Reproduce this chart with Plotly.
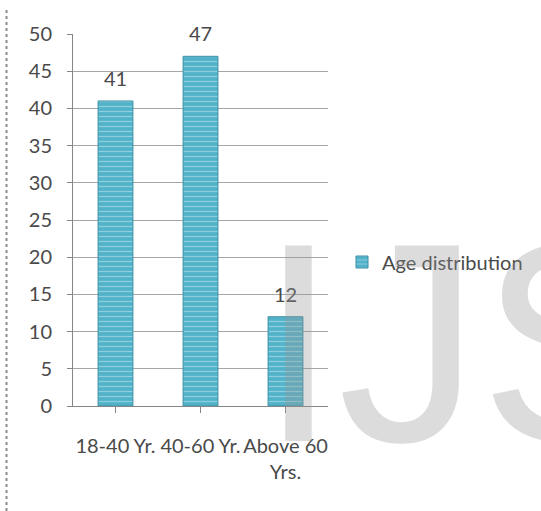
import plotly.graph_objects as go

categories = ["18-40 Yr.", "40-60 Yr.", "Above 60<br>Yrs."]
values = [41, 47, 12]
series_name = "Age distribution"
y_ticks = [0, 5, 10, 15, 20, 25, 30, 35, 40, 45, 50]

W, H = 541, 511
L, R, T, B = 73, 213, 34, 105
pw, ph = W - L - R, H - T - B

def px_x(x):
    return (x - L) / pw

def px_y(y):
    return (H - B - y) / ph

FONT = "Lato"
FS = 20
TXT = "#4a4a4a"

fig = go.Figure()
fig.add_trace(go.Bar(
    x=list(range(len(categories))),
    y=values,
    name=series_name,
    width=0.41,
    marker=dict(
        color="#55b6cc",
        pattern=dict(shape="-", fgcolor="#c8ecf3", bgcolor="#52b2c9", size=5, solidity=0.25),
        line=dict(color="#3b8fa3", width=1),
    ),
    showlegend=True,
))

for i, v in enumerate(values):
    fig.add_annotation(x=i, y=v, text=str(v), showarrow=False, yshift=23,
                       yanchor="middle", font=dict(family=FONT, size=FS, color=TXT))

# watermark
fig.add_annotation(xref="paper", yref="paper", x=px_x(257), y=px_y(342),
                   xanchor="left", yanchor="middle", text="IJS", showarrow=False,
                   font=dict(family="Liberation Sans", size=284, color="rgba(150,150,150,0.33)"))

# left dotted border
fig.add_shape(type="line", xref="paper", yref="paper",
              x0=px_x(6.5), x1=px_x(6.5), y0=px_y(511), y1=px_y(7),
              line=dict(color="#8c8c8c", width=2, dash="dot"))

fig.update_layout(
    width=W, height=H,
    margin=dict(l=L, r=R, t=T, b=B, pad=0, autoexpand=False),
    plot_bgcolor="white", paper_bgcolor="white",
    font=dict(family=FONT, size=FS, color=TXT),
    legend=dict(x=px_x(342), y=px_y(262), xanchor="left", yanchor="middle",
                font=dict(family=FONT, size=FS, color=TXT), itemwidth=30),
)
fig.update_xaxes(
    range=[-0.5, len(categories) - 0.5],
    tickvals=list(range(len(categories))), ticktext=categories, tickangle=0,
    tickson="boundaries", ticks="outside", ticklen=6, tickcolor="#868686",
    showline=True, linecolor="#868686", linewidth=1, showgrid=False,
    ticklabelstandoff=16, tickfont=dict(family=FONT, size=FS, color=TXT),
    automargin=False,
)
fig.update_yaxes(
    range=[0, 50], tickvals=y_ticks,
    ticks="outside", ticklen=5, tickcolor="#868686",
    showline=True, linecolor="#868686", linewidth=1,
    showgrid=True, gridcolor="#a6a6a6", gridwidth=1, zeroline=False,
    ticklabelstandoff=11, tickfont=dict(family=FONT, size=FS, color=TXT),
    automargin=False,
)

fig.write_html("out.html")
